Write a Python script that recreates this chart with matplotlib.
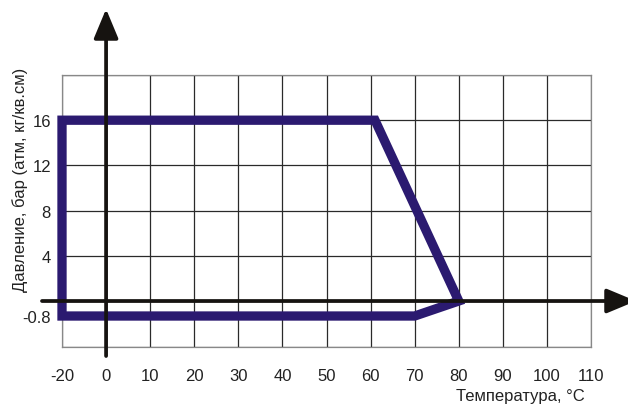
import numpy as np
import matplotlib
matplotlib.use("Agg")
import matplotlib.pyplot as plt
from matplotlib.patches import Polygon

plt.rcParams['font.family'] = ['Liberation Sans', 'DejaVu Sans']

# Data
temps = [-20, 61, 80, 70, -20]
pressures = [16, 16, 0, -0.8, -0.8]
x_ticks = [-20, 0, 10, 20, 30, 40, 50, 60, 70, 80, 90, 100, 110]
x_labels = ["-20", "0", "10", "20", "30", "40", "50", "60", "70", "80", "90", "100", "110"]
y_label_vals = [16, 12, 8, 4, -0.8]
y_label_txt = ["16", "12", "8", "4", "-0.8"]

NEG_X = 0.5
NEG_Y = 1.66

def fx(x):
    x = np.asarray(x, dtype=float)
    return np.where(x < 0, x * NEG_X, x)

def ix(x):
    x = np.asarray(x, dtype=float)
    return np.where(x < 0, x / NEG_X, x)

def fy(y):
    y = np.asarray(y, dtype=float)
    return np.where(y < 0, y * NEG_Y, y)

def iy(y):
    y = np.asarray(y, dtype=float)
    return np.where(y < 0, y / NEG_Y, y)

W, H = 628, 406
fig = plt.figure(figsize=(W / 100, H / 100), dpi=100)
L, R, T, B = 62, 591, 76, 348
ax = fig.add_axes([L / W, (H - B) / H, (R - L) / W, (B - T) / H])
ax.set_xscale('function', functions=(fx, ix))
ax.set_yscale('function', functions=(fy, iy))
ax.set_xlim(-20, 110)
ymin = -4.07 / NEG_Y
ax.set_ylim(ymin, 20)

grid_y = [20, 16, 12, 8, 4, 0, ymin]
ax.yaxis.remove_overlapping_locs = False
ax.set_xticks(x_ticks)
ax.set_xticklabels(x_labels)
ax.set_yticks(grid_y)
ax.set_yticklabels([""] * len(grid_y))
ax.set_yticks(y_label_vals, minor=True)
ax.set_yticklabels(y_label_txt, minor=True)
ax.xaxis.set_minor_locator(matplotlib.ticker.NullLocator())
ax.tick_params(which='both', length=0, labelsize=12, colors='#222222')
ax.tick_params(axis='x', pad=15)
ax.tick_params(axis='y', which='minor', pad=8)
ax.grid(True, which='major', color='#2a2a2a', lw=0.9, zorder=0)
for s in ax.spines.values():
    s.set_color('#888888')
    s.set_linewidth(0.9)

poly = Polygon(np.column_stack([temps, pressures]), closed=True, fill=False,
               lw=6.7, ec='#2b1a70', joinstyle='miter', zorder=3, clip_on=False)
ax.add_patch(poly)

# axes arrows
ap = dict(arrowstyle='-|>,head_length=1.8,head_width=0.75', mutation_scale=10,
          lw=2.7, color='#161310', shrinkA=0, shrinkB=0)
ax.annotate('', xy=(0, (H - 10 - (H - B)) / (B - T)), xytext=(0, (H - 357 - (H - B)) / (B - T)),
            xycoords=('data', 'axes fraction'), textcoords=('data', 'axes fraction'),
            arrowprops=ap, zorder=5, annotation_clip=False)
ax.annotate('', xy=((636 - L) / (R - L), 0), xytext=((42 - L) / (R - L), 0),
            xycoords=('axes fraction', 'data'), textcoords=('axes fraction', 'data'),
            arrowprops=ap, zorder=5, annotation_clip=False)

fig.text(585 / W, 1 - 397 / H, "Температура, °C", ha='right', va='center',
         fontsize=12, color='#222222')
fig.text(20 / W, 1 - 180 / H, "Давление, бар (атм, кг/кв.см)", ha='center', va='center',
         rotation=90, fontsize=12, color='#222222')

fig.savefig('out.png', dpi=100)
